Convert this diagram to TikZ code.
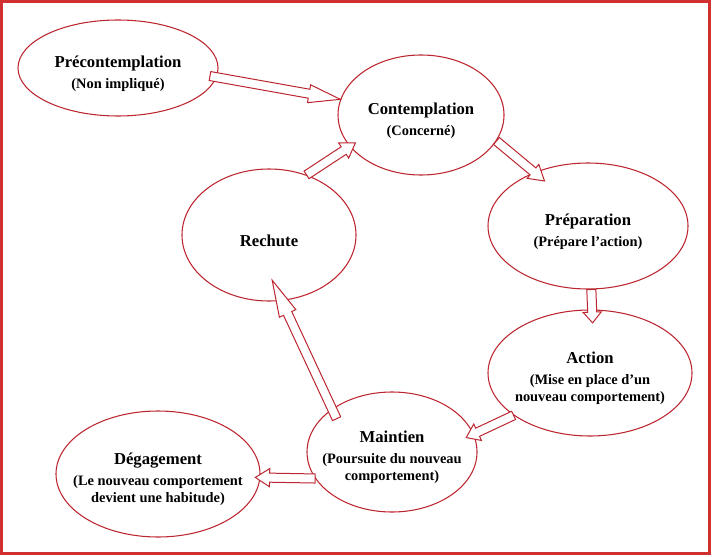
\documentclass[tikz,border=0pt]{standalone}
\usepackage{fontspec}
\setmainfont{Liberation Serif}
\usetikzlibrary{calc, shapes.geometric}
\definecolor{framered}{RGB}{208,48,48}
\definecolor{linered}{RGB}{188,38,48}
\newcommand{\titre}[1]{\rule{0pt}{17pt}#1}
\newcommand{\sous}[1]{{\fontsize{10.8}{13.2}\selectfont #1}}
\newcommand{\blockarrow}[3][0.24]{
\coordinate (ba-s) at (#2);
\coordinate (ba-e) at (#3);
\coordinate (ba-h) at ($(ba-e)!#1!(ba-s)$);
\filldraw[flow] ($(ba-s)!3.4pt!90:(ba-e)$) -- ($(ba-h)!3.4pt!-90:(ba-s)$)
    -- ($(ba-h)!6.8pt!-90:(ba-s)$) -- (ba-e)
    -- ($(ba-h)!6.8pt!90:(ba-s)$) -- ($(ba-h)!3.4pt!90:(ba-s)$)
    -- ($(ba-s)!3.4pt!-90:(ba-e)$) -- cycle;
}
\tikzset{
  stage/.style={draw=linered, line width=0.8pt, ellipse, inner xsep=-20pt,
    align=center, font=\bfseries\fontsize{12.5}{13.2}\selectfont},
  flow/.style={draw=linered, fill=white, line width=0.75pt, line join=miter}
}

\begin{document}
\begin{tikzpicture}[x=0.75pt, y=-0.75pt]
\useasboundingbox (0,0) rectangle (712,556);
\draw[framered, line width=2.25pt] (1.5,1.5) rectangle (709.5,553.5);

\node[stage, minimum width=150pt, minimum height=72pt] (pre) at (118,68)
    {\titre{Précontemplation}\\[2.2pt]\sous{(Non impliqué)}};
\node[stage, minimum width=124.5pt, minimum height=90pt] (con) at (421,115)
    {\titre{Contemplation}\\[2.2pt]\sous{(Concerné)}};
\node[stage, minimum width=150pt, minimum height=94.5pt] (prep) at (588,226)
    {\titre{Préparation}\\[2.2pt]\sous{(Prépare l’action)}};
\node[stage, minimum width=153pt, minimum height=94.5pt] (act) at (590,373)
    {\titre{Action}\\[2.2pt]\sous{(Mise en place d’un}\\\sous{nouveau comportement)}};
\node[stage, minimum width=127.5pt, minimum height=90pt] (mai) at (392,452)
    {\titre{Maintien}\\[2.2pt]\sous{(Poursuite du nouveau}\\\sous{comportement)}};
\node[stage, minimum width=153pt, minimum height=94.5pt] (deg) at (158,474)
    {\titre{Dégagement}\\[2.2pt]\sous{(Le nouveau comportement}\\\sous{devient une habitude)}};
\node[stage, minimum width=130.5pt, minimum height=99pt] (rec) at (269,235)
    {\titre{Rechute}};

\blockarrow{$(pre)!0.93!(pre.-5)$}{con.169}
\blockarrow{rec.58}{$(con)!0.91!(con.203)$}
\blockarrow{con.-19}{$(prep)!0.83!(prep.134)$}
\blockarrow[0.32]{prep.-87}{$(act)!0.79!(act.87)$}
\blockarrow{act.209}{$(mai)!0.90!(mai.11)$}
\blockarrow{$(mai)!0.85!(mai.149)$}{$(rec)!0.68!(rec.-86)$}
\blockarrow{mai.199}{$(deg)!0.95!(deg.-2)$}
\end{tikzpicture}
\end{document}
